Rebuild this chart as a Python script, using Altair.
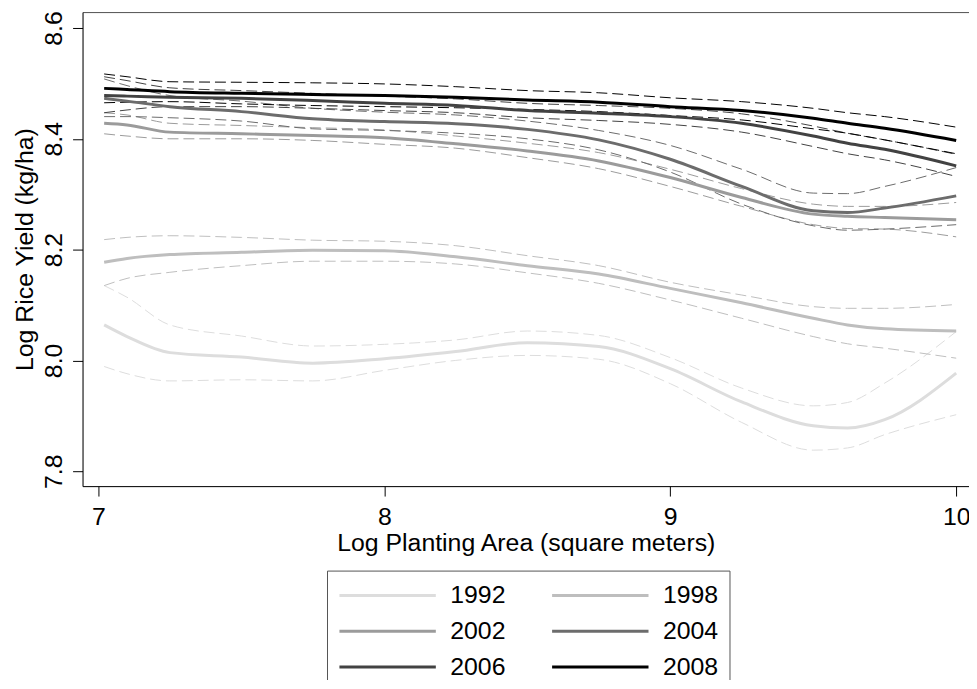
import altair as alt
import pandas as pd

YEARS = ["1992", "1998", "2002", "2004", "2006", "2008"]
GREYS = ["#dddddd", "#bebebe", "#9b9b9b", "#6c6c6c", "#424242", "#000000"]

X = [7.02, 7.1, 7.25, 7.5, 7.75, 8.0, 8.25, 8.5, 8.75, 9.0, 9.25, 9.5, 9.62, 9.75, 10.0]

fit_1992 = [8.064, 8.043, 8.014, 8.006, 7.995, 8.003, 8.016, 8.032, 8.025, 7.985, 7.925, 7.882, 7.878, 7.893, 7.977]
hi_1992 = [8.135, 8.114, 8.064, 8.044, 8.026, 8.029, 8.037, 8.053, 8.045, 8.005, 7.950, 7.918, 7.924, 7.959, 8.052]
lo_1992 = [7.989, 7.976, 7.963, 7.965, 7.963, 7.982, 8.000, 8.009, 8.002, 7.958, 7.888, 7.838, 7.842, 7.866, 7.902]

fit_1998 = [8.177, 8.184, 8.191, 8.195, 8.199, 8.198, 8.187, 8.171, 8.156, 8.130, 8.104, 8.076, 8.064, 8.057, 8.053]
hi_1998 = [8.218, 8.222, 8.225, 8.222, 8.217, 8.215, 8.207, 8.189, 8.171, 8.141, 8.118, 8.097, 8.094, 8.094, 8.101]
lo_1998 = [8.135, 8.148, 8.159, 8.171, 8.179, 8.179, 8.174, 8.158, 8.139, 8.109, 8.076, 8.043, 8.030, 8.022, 8.004]

fit_2002 = [8.428, 8.425, 8.412, 8.409, 8.406, 8.402, 8.391, 8.378, 8.360, 8.330, 8.294, 8.264, 8.260, 8.258, 8.254]
hi_2002 = [8.447, 8.443, 8.428, 8.424, 8.420, 8.416, 8.405, 8.392, 8.375, 8.345, 8.310, 8.282, 8.278, 8.278, 8.285]
lo_2002 = [8.409, 8.405, 8.400, 8.400, 8.397, 8.390, 8.383, 8.366, 8.346, 8.314, 8.278, 8.245, 8.238, 8.237, 8.223]

fit_2004 = [8.473, 8.468, 8.458, 8.449, 8.436, 8.431, 8.427, 8.417, 8.398, 8.363, 8.314, 8.270, 8.267, 8.275, 8.297]
hi_2004 = [8.508, 8.496, 8.478, 8.468, 8.455, 8.448, 8.443, 8.432, 8.415, 8.388, 8.345, 8.302, 8.301, 8.314, 8.348]
lo_2004 = [8.440, 8.440, 8.438, 8.432, 8.418, 8.415, 8.410, 8.400, 8.380, 8.340, 8.282, 8.243, 8.235, 8.237, 8.245]

fit_2006 = [8.478, 8.477, 8.475, 8.473, 8.469, 8.464, 8.460, 8.451, 8.446, 8.440, 8.428, 8.405, 8.392, 8.381, 8.351]
hi_2006 = [8.512, 8.505, 8.492, 8.487, 8.482, 8.477, 8.472, 8.464, 8.460, 8.455, 8.445, 8.423, 8.410, 8.398, 8.372]
lo_2006 = [8.447, 8.452, 8.458, 8.458, 8.455, 8.451, 8.447, 8.438, 8.433, 8.426, 8.412, 8.386, 8.373, 8.362, 8.332]

fit_2008 = [8.491, 8.489, 8.485, 8.482, 8.480, 8.478, 8.475, 8.470, 8.466, 8.458, 8.451, 8.437, 8.428, 8.419, 8.397]
hi_2008 = [8.517, 8.512, 8.503, 8.502, 8.501, 8.499, 8.494, 8.487, 8.483, 8.474, 8.467, 8.455, 8.447, 8.440, 8.421]
lo_2008 = [8.465, 8.466, 8.467, 8.463, 8.460, 8.458, 8.456, 8.453, 8.449, 8.442, 8.434, 8.418, 8.410, 8.398, 8.373]

X_TICKS = [7, 8, 9, 10]
Y_TICKS = [7.8, 8.0, 8.2, 8.4, 8.6]

fits = dict(zip(YEARS, [fit_1992, fit_1998, fit_2002, fit_2004, fit_2006, fit_2008]))
his = dict(zip(YEARS, [hi_1992, hi_1998, hi_2002, hi_2004, hi_2006, hi_2008]))
los = dict(zip(YEARS, [lo_1992, lo_1998, lo_2002, lo_2004, lo_2006, lo_2008]))

main_rows = []
ci_rows = []
for yr in YEARS:
    for xv, f, h, l in zip(X, fits[yr], his[yr], los[yr]):
        main_rows.append({"year": yr, "x": xv, "y": f})
        ci_rows.append({"year": yr, "band": yr + "_hi", "x": xv, "y": h})
        ci_rows.append({"year": yr, "band": yr + "_lo", "x": xv, "y": l})
main_df = pd.DataFrame(main_rows)
ci_df = pd.DataFrame(ci_rows)

FONT = "Liberation Sans"
XDOM = [6.9444, 10.0448]
YDOM = [7.7731, 8.6287]

color_scale = alt.Scale(domain=YEARS, range=GREYS)

ci = alt.Chart(ci_df).mark_line(strokeWidth=1, strokeDash=[11, 5], interpolate="monotone").encode(
    x=alt.X("x:Q", scale=alt.Scale(domain=XDOM, nice=False, zero=False),
            axis=alt.Axis(orient="top", labels=False, ticks=False, title=None, grid=False,
                          domainColor="#555555", domainWidth=1)),
    y=alt.Y("y:Q", scale=alt.Scale(domain=YDOM, nice=False, zero=False), axis=None),
    color=alt.Color("year:N", scale=color_scale, legend=None),
    detail="band:N",
)

main = alt.Chart(main_df).mark_line(strokeWidth=3, interpolate="monotone").encode(
    x=alt.X("x:Q", scale=alt.Scale(domain=XDOM, nice=False, zero=False),
            axis=alt.Axis(values=X_TICKS, format="d", tickSize=10, labelPadding=9,
                          labelFontSize=25, titleFontSize=25, titleFontWeight="normal",
                          title="Log Planting Area (square meters)", titleY=45,
                          labelFlush=False, grid=False, domainColor="black", tickColor="black",
                          labelColor="black", titleColor="black", labelFont=FONT, titleFont=FONT)),
    y=alt.Y("y:Q", scale=alt.Scale(domain=YDOM, nice=False, zero=False),
            axis=alt.Axis(values=Y_TICKS, format=".1f", tickSize=10, labelAngle=270,
                          labelAlign="center", labelBaseline="bottom", labelPadding=6,
                          labelFontSize=25, titleFontSize=25, titleFontWeight="normal",
                          title="Log Rice Yield (kg/ha)", titleAngle=270, titleBaseline="bottom",
                          titleX=-45, titleY=238.5, labelOverlap=False, labelFlush=False,
                          grid=False, domainColor="black", tickColor="black",
                          labelColor="black", titleColor="black", labelFont=FONT, titleFont=FONT)),
    color=alt.Color("year:N", scale=color_scale, sort=YEARS,
                    legend=alt.Legend(title=None, orient="none", legendX=246, legendY=562,
                                      columns=2, direction="horizontal",
                                      symbolType="stroke", symbolSize=9409,
                                      symbolStrokeWidth=3, clipHeight=28, rowPadding=8,
                                      columnPadding=45, labelOffset=13, labelFontSize=25,
                                      labelFont=FONT, labelColor="black", padding=11,
                                      strokeColor="#555555", fillColor="white",
                                      symbolOffset=0)),
)

chart = alt.layer(ci, main).resolve_axis(x="independent", y="independent").resolve_legend(
    color="independent"
).properties(
    width=892, height=477,
    autosize=alt.AutoSizeParams(type="none"),
    padding={"left": 75, "top": 2, "right": 0, "bottom": 193},
).configure_view(stroke=None).configure(font=FONT, background="white")

chart.save("out.html", embed_options={"renderer": "svg", "actions": False})
